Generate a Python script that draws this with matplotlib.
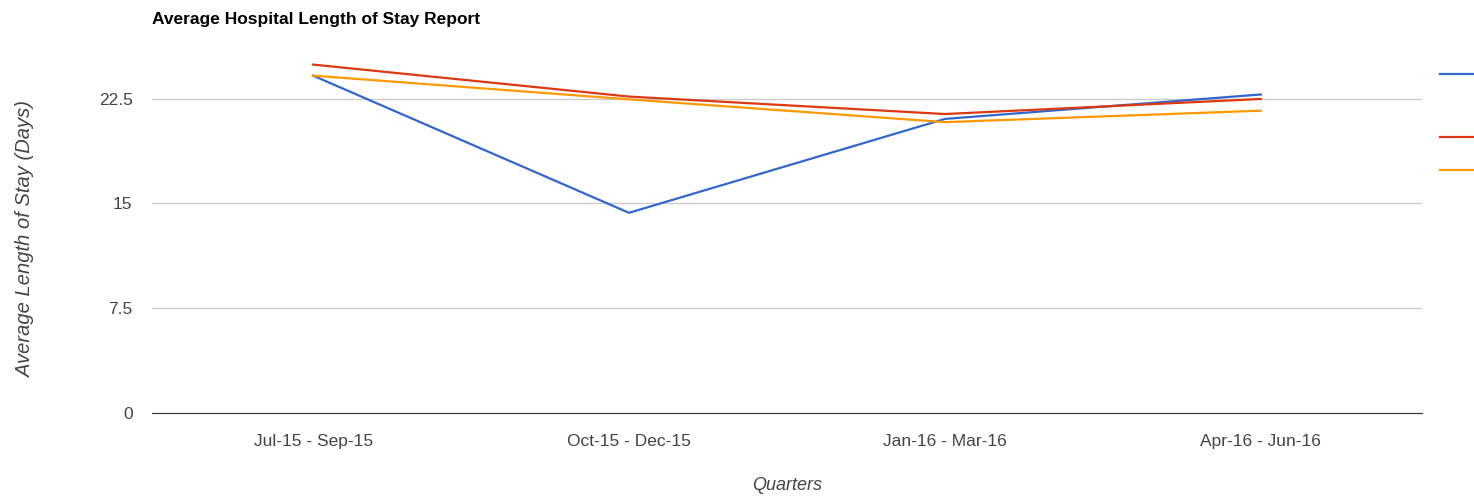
import matplotlib.pyplot as plt
from matplotlib.lines import Line2D

quarters = ["Jul-15 - Sep-15", "Oct-15 - Dec-15", "Jan-16 - Mar-16", "Apr-16 - Jun-16"]
blue_vals = [24.15, 14.33, 21.05, 22.8]
red_vals = [24.94, 22.65, 21.4, 22.48]
orange_vals = [24.15, 22.45, 20.82, 21.64]
yticks = [0, 7.5, 15, 22.5]
ytick_labels = ["0", "7.5", "15", "22.5"]

plt.rcParams['font.family'] = ['Liberation Sans', 'DejaVu Sans']

fig = plt.figure(figsize=(14.74, 4.98), dpi=100)
ax = fig.add_axes([0.1031, 0.1707, 0.8616, 0.749])

x = range(len(quarters))
ax.plot(x, blue_vals, color='#3366cc', lw=1.6)
ax.plot(x, red_vals, color='#dc3912', lw=1.6)
ax.plot(x, orange_vals, color='#ff9900', lw=1.6)

ax.set_xlim(-0.51, 3.51)
ax.set_ylim(0, 26.7)
ax.set_yticks(yticks)
ax.set_yticklabels(ytick_labels)
ax.set_xticks(list(x))
ax.set_xticklabels(quarters)
ax.grid(axis='y', color='#cccccc', lw=1)
ax.set_axisbelow(True)
for s in ['top', 'right', 'left']:
    ax.spines[s].set_visible(False)
ax.spines['bottom'].set_color('#333333')
ax.tick_params(length=0, labelsize=12.5, colors='#444444', pad=14)
ax.tick_params(axis='x', pad=15)

fig.text(0.1031, 0.96, "Average Hospital Length of Stay Report", fontsize=12.5, fontweight='bold', ha='left', va='center')
fig.text(0.017, 0.52, "Average Length of Stay (Days)", rotation=90, style='italic', fontsize=14.5, color='#444444', ha='center', va='center')
fig.text(0.534, 0.025, "Quarters", style='italic', fontsize=13, color='#444444', ha='center', va='center')

# legend keys (text cut off at right edge)
for yy, c in [(74, '#3366cc'), (137, '#dc3912'), (170, '#ff9900')]:
    fy = 1 - yy / 498
    fig.add_artist(Line2D([1440 / 1474, 1.0], [fy, fy], color=c, lw=1.6))

fig.savefig("out.png", dpi=100)
